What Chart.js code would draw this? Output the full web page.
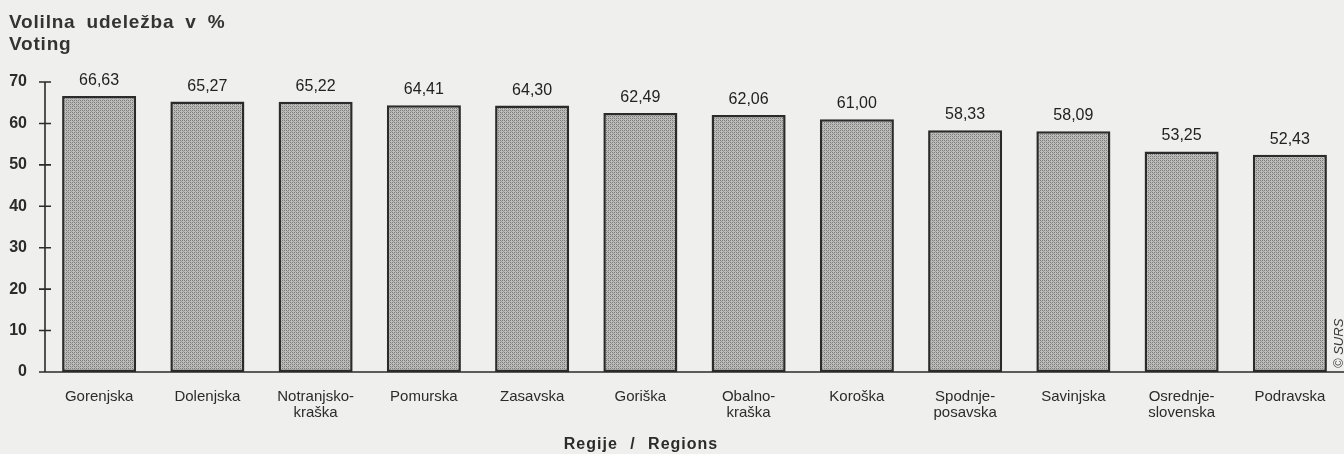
<!DOCTYPE html>
<html>
<head>
<meta charset="utf-8">
<script src="https://cdn.jsdelivr.net/npm/chart.js@4/dist/chart.umd.min.js"></script>
<style>
  html, body { margin: 0; padding: 0; background: #efefed; }
  #wrap { width: 1344px; height: 454px; position: relative; }
</style>
</head>
<body>
<div id="wrap"><canvas id="c"></canvas></div>
<script>
const categories = [
  ["Gorenjska"], ["Dolenjska"], ["Notranjsko-", "kraška"], ["Pomurska"], ["Zasavska"], ["Goriška"],
  ["Obalno-", "kraška"], ["Koroška"], ["Spodnje-", "posavska"], ["Savinjska"], ["Osrednje-", "slovenska"], ["Podravska"]
];
const turnout = [66.63, 65.27, 65.22, 64.41, 64.30, 62.49, 62.06, 61.00, 58.33, 58.09, 53.25, 52.43];
const yTickValues = [0, 10, 20, 30, 40, 50, 60, 70];
const titleLines = ["Volilna udeležba v %", "Voting"];
const axisTitle = "Regije / Regions";
const sourceNote = "© SURS";

const FONT = "'Liberation Sans', Arial, Helvetica, sans-serif";
const INK = "#2b2b2b";

function makePattern() {
  const p = document.createElement('canvas');
  p.width = 4; p.height = 4;
  const g = p.getContext('2d');
  g.fillStyle = '#bdbdbb';
  g.fillRect(0, 0, 4, 4);
  g.fillStyle = '#7c7c7a';
  g.fillRect(0, 0, 1, 1); g.fillRect(2, 2, 1, 1);
  g.fillRect(2, 0, 1, 1); g.fillRect(0, 2, 1, 1);
  g.fillStyle = '#9c9c9a';
  g.fillRect(1, 1, 1, 1); g.fillRect(3, 3, 1, 1);
  return g.createPattern(p, 'repeat');
}

const decor = {
  id: 'decor',
  beforeDraw(chart) {
    const ctx = chart.ctx;
    ctx.save();
    ctx.fillStyle = '#efefed';
    ctx.fillRect(0, 0, chart.width, chart.height);
    ctx.restore();
  },
  afterDatasetsDraw(chart) {
    const ctx = chart.ctx;
    const x = chart.scales.x, y = chart.scales.y;
    const area = chart.chartArea;
    ctx.save();
    // axes
    ctx.strokeStyle = INK;
    ctx.lineWidth = 1.6;
    const y0 = y.getPixelForValue(0);
    ctx.beginPath();
    ctx.moveTo(39, y0); ctx.lineTo(chart.width, y0);
    ctx.moveTo(area.left, y.getPixelForValue(70)); ctx.lineTo(area.left, y0);
    yTickValues.forEach(v => {
      if (v === 0) return;
      const py = y.getPixelForValue(v);
      ctx.moveTo(area.left - 6, py); ctx.lineTo(area.left + 6, py);
    });
    ctx.stroke();

    // value labels
    ctx.fillStyle = '#222';
    ctx.font = "16px " + FONT;
    ctx.textAlign = 'center';
    ctx.textBaseline = 'alphabetic';
    const meta = chart.getDatasetMeta(0);
    meta.data.forEach((bar, i) => {
      ctx.fillText(turnout[i].toFixed(2).replace('.', ','), bar.x, bar.y - 11);
    });

    // titles
    ctx.fillStyle = '#333';
    ctx.textAlign = 'left';
    ctx.font = "bold 19px " + FONT;
    try { ctx.letterSpacing = '0.8px'; ctx.wordSpacing = '5px'; } catch (e) {}
    ctx.fillText(titleLines[0], 9, 28);
    ctx.fillText(titleLines[1], 9, 50);

    // axis title
    ctx.fillStyle = INK;
    ctx.textAlign = 'center';
    ctx.font = "bold 16px " + FONT;
    try { ctx.letterSpacing = '1px'; ctx.wordSpacing = '7px'; } catch (e) {}
    ctx.fillText(axisTitle, 641, 449);
    try { ctx.letterSpacing = '0px'; ctx.wordSpacing = '0px'; } catch (e) {}

    // source note
    ctx.translate(1339, 368);
    ctx.rotate(-Math.PI / 2);
    ctx.textAlign = 'left';
    ctx.textBaseline = 'middle';
    ctx.font = "italic 13px " + FONT;
    ctx.fillStyle = '#3a3a3a';
    ctx.fillText(sourceNote, 0, 0);
    ctx.restore();
  }
};

new Chart(document.getElementById('c'), {
  type: 'bar',
  data: {
    labels: categories,
    datasets: [{
      data: turnout,
      backgroundColor: makePattern(),
      borderColor: INK,
      borderWidth: 2.5,
      borderSkipped: false,
      categoryPercentage: 1,
      barPercentage: 0.684
    }]
  },
  options: {
    responsive: true,
    maintainAspectRatio: false,
    animation: false,
    events: [],
    layout: { padding: { top: 82, right: 0, bottom: 0, left: 0 } },
    plugins: { legend: { display: false }, tooltip: { enabled: false }, title: { display: false } },
    scales: {
      x: {
        grid: { display: false, drawTicks: false },
        border: { display: false },
        ticks: {
          color: INK,
          font: { family: FONT, size: 15, lineHeight: 1.07 },
          padding: 17,
          maxRotation: 0,
          autoSkip: false
        },
        afterFit(s) { s.height = 82; }
      },
      y: {
        min: 0, max: 70,
        grid: { display: false, drawTicks: false },
        border: { display: false },
        afterBuildTicks(s) { s.ticks = yTickValues.map(v => ({ value: v })); },
        ticks: {
          color: INK,
          font: { family: FONT, size: 16, weight: 'bold' },
          padding: 18
        },
        afterFit(s) { s.width = 45; }
      }
    }
  },
  plugins: [decor]
});
</script>
</body>
</html>
